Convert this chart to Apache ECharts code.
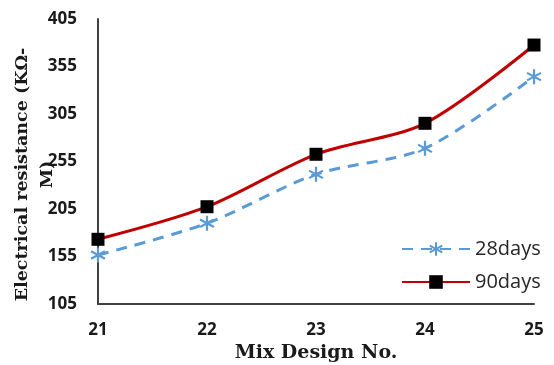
<!DOCTYPE html>
<html>
<head>
<meta charset="utf-8">
<script src="https://cdn.jsdelivr.net/npm/echarts@6/dist/echarts.min.js"></script>
<style>html,body{margin:0;padding:0;background:#fff}#c{width:554px;height:365px}</style>
</head>
<body>
<div id="c"></div>
<script>
const categories = ['21', '22', '23', '24', '25'];
const days28 = [156.6, 190.0, 241.5, 268.9, 344.3];
const days90 = [173.1, 207.4, 262.6, 295.2, 377.6];
const yTicks = [105, 155, 205, 255, 305, 355, 405];

function asteriskPath() {
  const c = 10, L = 10, w = 1.4;
  const angles = [0, 60, -60];
  let p = '';
  angles.forEach(a => {
    const t = a * Math.PI / 180;
    const d = [Math.sin(t), Math.cos(t)];
    const n = [Math.cos(t), -Math.sin(t)];
    const pts = [[-L, -w], [L, -w], [L, w], [-L, w]].map(([s, q]) =>
      [(c + s * d[0] + q * n[0]).toFixed(3), (c + s * d[1] + q * n[1]).toFixed(3)]);
    p += 'M' + pts[0].join(' ') + 'L' + pts[1].join(' ') + 'L' + pts[2].join(' ') + 'L' + pts[3].join(' ') + 'Z';
  });
  return 'path://' + p;
}

const chart = echarts.init(document.getElementById('c'), null, {renderer: 'canvas'});
chart.setOption({
  animation: false,
  backgroundColor: '#ffffff',
  grid: {left: 98, right: 20, top: 19, bottom: 61, containLabel: false, outerBoundsMode: 'none'},
  legend: {
    orient: 'vertical',
    left: 396,
    top: 234,
    itemWidth: 68,
    itemHeight: 17,
    itemGap: 13,
    textStyle: {fontFamily: 'Open Sans', fontSize: 20, color: '#262626'},
    data: ['28days', '90days']
  },
  xAxis: {
    type: 'category',
    data: categories,
    boundaryGap: false,
    axisLine: {lineStyle: {color: '#404040', width: 2}},
    axisTick: {show: false},
    axisLabel: {fontFamily: 'Open Sans', fontWeight: 'bold', fontSize: 17, color: '#1a1a1a', margin: 18},
    splitLine: {show: false},
    name: 'Mix Design No.',
    nameLocation: 'middle',
    nameGap: 37,
    nameTextStyle: {fontFamily: 'DejaVu Serif', fontWeight: 'bold', fontSize: 19, color: '#1a1a1a'}
  },
  yAxis: {
    type: 'value',
    min: 105,
    max: 405,
    axisLine: {show: true, lineStyle: {color: '#404040', width: 2}},
    axisTick: {show: false},
    splitLine: {show: false},
    axisLabel: {customValues: yTicks, fontFamily: 'Open Sans', fontWeight: 'bold', fontSize: 17, color: '#1a1a1a', margin: 21},
    name: 'Electrical resistance (KΩ-\nM)',
    nameLocation: 'middle',
    nameRotate: 90,
    nameGap: 38,
    nameMoveOverlap: false,
    nameTextStyle: {fontFamily: 'DejaVu Serif', fontWeight: 'bold', fontSize: 17.5, color: '#1a1a1a', lineHeight: 25, padding: [0, 26, 0, 0]}
  },
  series: [
    {
      name: '28days',
      type: 'line',
      data: days28,
      smooth: 0.3,
      symbol: asteriskPath(),
      symbolSize: 15,
      itemStyle: {color: '#5B9BD5'},
      lineStyle: {color: '#5B9BD5', width: 3, type: [11, 8]},
      z: 2
    },
    {
      name: '90days',
      type: 'line',
      data: days90,
      smooth: 0.3,
      symbol: 'rect',
      symbolSize: 13,
      itemStyle: {color: '#000000'},
      lineStyle: {color: '#C00000', width: 3},
      z: 3
    }
  ]
});
</script>
</body>
</html>
